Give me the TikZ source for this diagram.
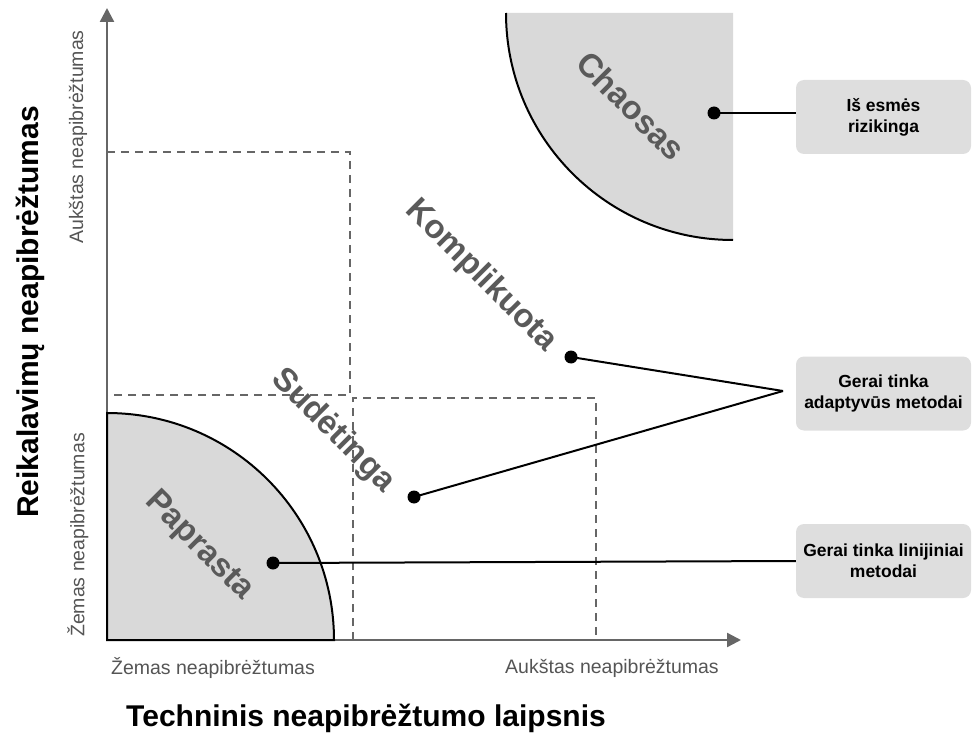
\documentclass[tikz,border=0pt]{standalone}
\usepackage{fontspec}
\setmainfont{Liberation Sans}
\usetikzlibrary{arrows.meta}
\definecolor{axisgray}{HTML}{666666}
\definecolor{zonefill}{HTML}{D9D9D9}
\definecolor{boxfill}{HTML}{DEDEDE}
\definecolor{zonetext}{HTML}{5A5A5A}
\definecolor{ticktext}{HTML}{555555}
\tikzset{
  axisline/.style={draw=axisgray, line width=2.4pt, -{Triangle[length=14pt,width=14pt]}},
  gridline/.style={draw=axisgray, line width=1.8pt, dash pattern=on 8pt off 6pt},
  zone/.style={fill=zonefill},
  zoneedge/.style={draw=black, line width=2pt},
  zonelabel/.style={text=zonetext, font=\bfseries\fontsize{33}{33}\selectfont, rotate=-45, inner sep=0pt},
  ticklabel/.style={text=ticktext, font=\fontsize{19.5}{19.5}\selectfont, inner sep=0pt},
  axistitle/.style={text=black, font=\bfseries\fontsize{30}{30}\selectfont, inner sep=0pt},
  pin/.style={circle, fill=black, inner sep=0pt, minimum size=13pt},
  leader/.style={draw=black, line width=2pt},
  notebox/.style={fill=boxfill, rounded corners=8pt, minimum width=175pt, minimum height=74pt,
    align=center, font=\bfseries\fontsize{17.5}{21}\selectfont, inner sep=0pt}
}
\begin{document}
\begin{tikzpicture}[x=1pt, y=-1pt]
  \useasboundingbox (0,0) rectangle (972,738);

  % shaded zones: simple (lower left) and chaos (upper right)
  \fill[zone] (107,640) -- (107,413) arc[start angle=-90, end angle=0, radius=227] -- cycle;
  \fill[zone] (733,13) -- (506,13) arc[start angle=180, end angle=90, radius=227] -- cycle;

  % dashed regions
  \draw[gridline] (107,152) -- (350,152) -- (350,395) -- (107,395);
  \draw[gridline] (353,640) -- (353,398) -- (596,398) -- (596,640);

  % axes
  \coordinate (origin) at (107,640);
  \coordinate (ytip) at (107,8);
  \coordinate (xtip) at (741,640);
  \draw[axisline] (origin) -- (ytip);
  \draw[axisline] (origin) -- (xtip);

  % zone outlines
  \draw[zoneedge] (107,640) -- (107,413) arc[start angle=-90, end angle=0, radius=227] -- cycle;
  \draw[zoneedge] (506,13) arc[start angle=180, end angle=90, radius=227];

  % zone names
  \node[zonelabel] (chaos) at (631,106) {Chaosas};
  \node[zonelabel] (compl) at (481,276) {Komplikuota};
  \node[zonelabel] (compx) at (333,431) {Sudėtinga};
  \node[zonelabel] (simple) at (199,546) {Paprasta};

  % axis scale labels
  \node[ticklabel] (xlow) at (213,668) {Žemas neapibrėžtumas};
  \node[ticklabel] (xhigh) at (612,668) {Aukštas neapibrėžtumas};
  \node[ticklabel, rotate=90] (yhigh) at (78,137) {Aukštas neapibrėžtumas};
  \node[ticklabel, rotate=90] (ylow) at (78,535) {Žemas neapibrėžtumas};

  % axis titles
  \node[axistitle] (xtitle) at (366,718) {Techninis neapibrėžtumo laipsnis};
  \node[axistitle, rotate=90] (ytitle) at (30,312) {Reikalavimų neapibrėžtumas};

  % notes
  \node[notebox] (risky) at (883.5,117) {Iš esmės\\rizikinga};
  \node[notebox] (adapt) at (883.5,393.5) {Gerai tinka\\adaptyvūs metodai};
  \node[notebox] (linear) at (883.5,561) {Gerai tinka linijiniai\\metodai};

  % pins and leaders
  \node[pin] (pchaos) at (714,113) {};
  \node[pin] (pcompl) at (571,357) {};
  \node[pin] (pcompx) at (414,497) {};
  \node[pin] (psimple) at (273,563) {};
  \coordinate (merge) at (783,391);

  \draw[leader] (pchaos.center) -- (risky.west |- pchaos.center);
  \draw[leader] (pcompl.center) -- (merge);
  \draw[leader] (pcompx.center) -- (merge);
  \draw[leader] (psimple.center) -- (linear.west);
\end{tikzpicture}
\end{document}
